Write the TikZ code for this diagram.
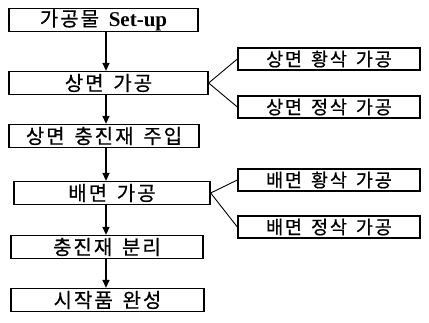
\documentclass[tikz,border=0pt]{standalone}
\usepackage{fontspec}
\setmainfont{Liberation Serif}
\newfontfamily\kr[LetterSpace=10,WordSpace=1.5,FakeBold=0.6]{Noto Sans CJK KR}
\usetikzlibrary{arrows.meta}
\begin{document}
\begin{tikzpicture}[x=1pt,y=-1pt,
  box/.style={draw, line width=1.3pt, minimum height=23pt, inner sep=0pt,
    font=\kr\fontsize{20}{20}\selectfont},
  rbox/.style={box, minimum width=182pt, minimum height=22pt,
    font=\kr\fontsize{18.5}{18.5}\selectfont},
  arr/.style={line width=1.3pt, -{Triangle[length=8pt,width=7pt]}},
  fork/.style={line width=0.9pt}]
\useasboundingbox (0,0) rectangle (429,322);
\coordinate (ax) at (106,0);
\node[box, minimum width=189pt] (b1) at (103.5,20) {가공물 {\rmfamily\bfseries\fontsize{21}{21}\selectfont Set-up}};
\node[box, minimum width=199pt] (b2) at (108.5,83) {상면 가공};
\node[box, minimum width=190pt] (b3) at (104,136) {상면 충진재 주입};
\node[box, minimum width=196pt] (b4) at (112,193) {배면 가공};
\node[box, minimum width=192pt] (b5) at (107,247) {충진재 분리};
\node[box, minimum width=193pt] (b6) at (107.5,300) {시작품 완성};
\node[rbox] (r1) at (329,59) {상면 황삭 가공};
\node[rbox] (r2) at (329,107) {상면 정삭 가공};
\node[rbox] (r3) at (329,180) {배면 황삭 가공};
\node[rbox] (r4) at (329,227) {배면 정삭 가공};
\draw[arr] (b1.south -| ax) -- (b2.north -| ax);
\draw[arr] (b2.south -| ax) -- (b3.north -| ax);
\draw[arr] (b3.south -| ax) -- (b4.north -| ax);
\draw[arr] (b4.south -| ax) -- (b5.north -| ax);
\draw[arr] (b5.south -| ax) -- (b6.north -| ax);
\draw[fork] (r1.west) -- (b2.east) -- (r2.west);
\draw[fork] (r3.west) -- (b4.east) -- (r4.west);
\end{tikzpicture}
\end{document}
